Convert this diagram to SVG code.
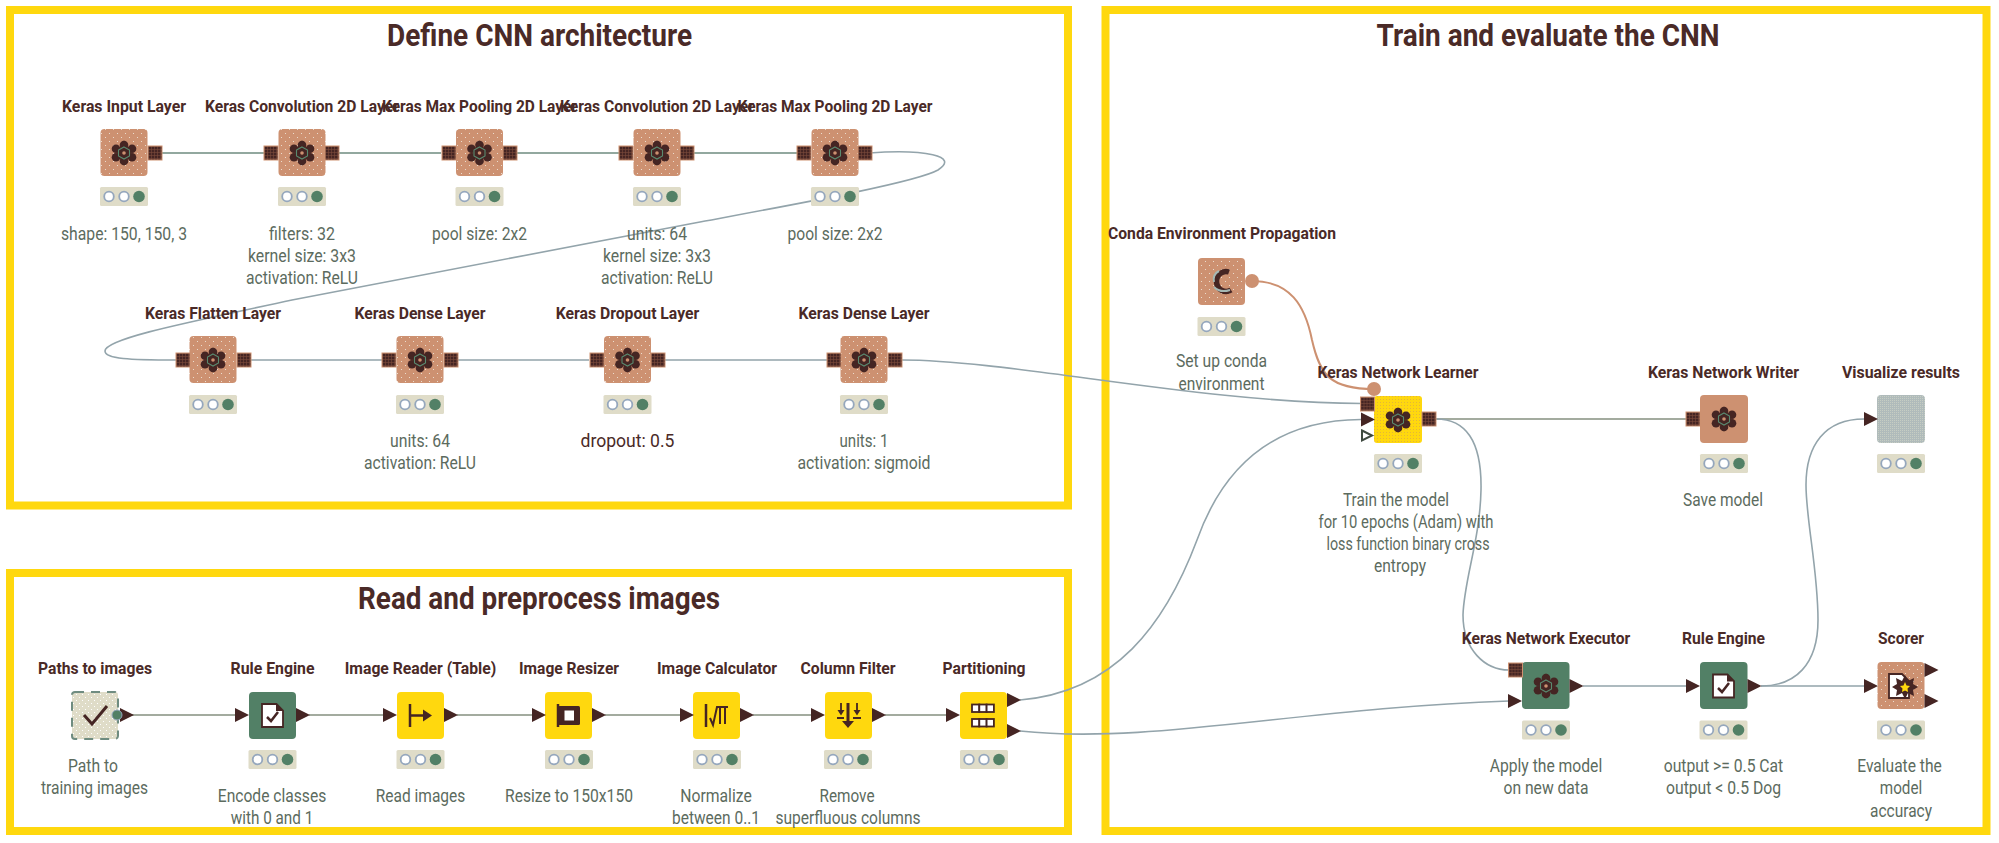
<svg xmlns="http://www.w3.org/2000/svg" xmlns:xlink="http://www.w3.org/1999/xlink" width="1999" height="843" viewBox="0 0 1999 843">
<style>
text{font-family:Roboto,"Liberation Sans",sans-serif;text-anchor:middle}
.h{font-size:31px;font-weight:700;fill:#4a2a27}
.t{font-size:17px;font-weight:700;fill:#4a2a27}
.n{font-size:17.500px;font-weight:400;fill:#5c6b5e}
.d{font-size:19px;font-weight:400;fill:#4a2a27}
.frame{fill:none;stroke:#ffd80e;stroke-width:8;stroke-linejoin:miter}
.c{fill:none;stroke:#93a4ab;stroke-width:1.6}
.cg{fill:none;stroke:#6f8c80;stroke-width:1.6}
.cb{fill:none;stroke:#a3ab9f;stroke-width:2}
.co{fill:none;stroke:#cd9171;stroke-width:2}
.ic{stroke:#452523;fill:none}
</style>
<defs>
<pattern id="pk" width="8" height="8" patternUnits="userSpaceOnUse"><rect width="8" height="8" fill="#cd9171"/><rect x="1" y="1" width="1" height="1" fill="#ecdccd"/><rect x="5" y="5" width="1" height="1" fill="#ecdccd"/></pattern>
<pattern id="pb" width="6" height="6" patternUnits="userSpaceOnUse"><rect width="6" height="6" fill="#dfdcc8"/><rect x="1" y="1" width="1" height="1" fill="#fff"/><rect x="4" y="4" width="1" height="1" fill="#fff"/></pattern>
<pattern id="pg" width="2" height="2" patternUnits="userSpaceOnUse"><rect width="2" height="2" fill="#b0bbbb"/><rect width="1" height="1" fill="#c6cdc3"/></pattern>
<pattern id="pp" width="3" height="3" patternUnits="userSpaceOnUse"><rect width="3" height="3" fill="#7a4a3a"/><rect width="2.400" height="2.400" fill="#452523"/></pattern>
<pattern id="py" width="3" height="3" patternUnits="userSpaceOnUse"><rect width="3" height="3" fill="#ffd80e"/><rect width="1" height="1" fill="#e3b63a"/></pattern>
<rect id="port" x="-7" y="-7" width="14" height="14" fill="url(#pp)" stroke="#cd9171" stroke-width="1"/>
<path id="tri" d="M0 -7 L14 0 L0 7 Z" fill="#452523"/>
<g id="status"><rect x="-24" y="-9.500" width="48" height="19" rx="1.500" fill="#dfdcc8"/><circle cx="-15" r="4.800" fill="#fff" stroke="#95a7bd" stroke-width="1.800"/><circle r="4.800" fill="#fff" stroke="#95a7bd" stroke-width="1.800"/><circle cx="15" r="5.800" fill="#528066"/></g>
<g id="keras"><g fill="#452523"><path d="M-4 -8L0 -12.500L4 -8ZM-4 8L0 12.500L4 8Z"/><circle cy="-8" r="4.300"/><circle cy="8" r="4.300"/><circle cx="-8" cy="-4.300" r="4.300"/><circle cx="8" cy="-4.300" r="4.300"/><circle cx="-8" cy="4.300" r="4.300"/><circle cx="8" cy="4.300" r="4.300"/><circle r="7"/></g><path d="M0 -6 L5.500 -3 V3 L0 6 L-5.500 3 V-3 Z" fill="none" stroke="#5a8a70" stroke-width="1.100"/><circle r="1.800" fill="#cd9171"/></g>
<g id="doc"><path d="M-10.500 -11.500 H4 L10.500 -5 V11.500 H-10.500 Z" fill="#fff" stroke="#452523" stroke-width="1.800"/><path d="M3.500 -11.500 L10.500 -4.500 H3.500 Z" fill="#452523"/></g>
</defs>
<rect width="1999" height="843" fill="#fff"/>
<g id="frames">
<rect class="frame" x="10" y="10" width="1058" height="495.500"/>
<rect class="frame" x="10" y="573" width="1058" height="258"/>
<rect class="frame" x="1105.500" y="10" width="881" height="821"/>
<text class="h" x="539.500" y="46" textLength="305" lengthAdjust="spacingAndGlyphs">Define CNN architecture</text>
<text class="h" x="1548" y="46" textLength="343" lengthAdjust="spacingAndGlyphs">Train and evaluate the CNN</text>
<text class="h" x="539" y="609" textLength="362" lengthAdjust="spacingAndGlyphs">Read and preprocess images</text>
</g>
<g id="connectors">
<path class="cg" d="M162 153H264M339 153H441M516 153H619M694 153H797"/>
<path class="c" d="M869 153C925 149 960 156 938 170C915 183 780 207 700 222C560 248 420 276 292 300C200 320 105 338 105 351C105 359 130 360 176 360"/>
<path class="c" d="M251 360H382M458 360H589M665 360H827M902 360C1010 360 1200 403 1362 403.500"/>
<path class="cb" d="M132 715H236M309 715H383M457 715H532M605 715H680M753 715H811M885 715H946"/>
<path class="c" d="M1020 700C1115 692 1165 625 1197 540C1222 470 1270 420 1361 419.500"/>
<path class="c" d="M1020 731C1150 745 1300 708 1509 701"/>
<path class="cb" d="M1436 419H1686"/>
<path class="c" d="M1436 419C1465 419 1482 440 1481 490C1480 540 1464 580 1463 615C1463 650 1485 670 1509 670"/>
<path class="c" stroke-width="2" d="M1583 686H1687M1761 686H1864"/>
<path class="c" d="M1761 686C1795 686 1818 665 1818 620C1818 570 1806 520 1806 485C1806 445 1825 419 1864 419"/>
<path class="co" d="M1252 281C1290 281 1305 305 1312 340C1320 375 1330 389 1374 389"/>
</g>
<g id="n-input"><rect x="100.500" y="129" width="47" height="47" rx="4" fill="url(#pk)"/><use xlink:href="#keras" x="124" y="153"/><use xlink:href="#port" x="155" y="153"/><use xlink:href="#status" x="124" y="196.500"/>
<text class="t" x="124" y="111.500" textLength="124" lengthAdjust="spacingAndGlyphs">Keras Input Layer</text>
<text class="n" x="124" y="239.500" textLength="126" lengthAdjust="spacingAndGlyphs">shape: 150, 150, 3</text></g>
<g id="n-conv1"><rect x="278.500" y="129" width="47" height="47" rx="4" fill="url(#pk)"/><use xlink:href="#keras" x="302" y="153"/><use xlink:href="#port" x="271" y="153"/><use xlink:href="#port" x="332" y="153"/><use xlink:href="#status" x="302" y="196.500"/>
<text class="t" x="302" y="111.500" textLength="194" lengthAdjust="spacingAndGlyphs">Keras Convolution 2D Layer</text>
<text class="n" x="302" y="239.500" textLength="66" lengthAdjust="spacingAndGlyphs">filters: 32</text>
<text class="n" x="302" y="261.500" textLength="108" lengthAdjust="spacingAndGlyphs">kernel size: 3x3</text>
<text class="n" x="302" y="283.500" textLength="112" lengthAdjust="spacingAndGlyphs">activation: ReLU</text></g>
<g id="n-pool1"><rect x="456" y="129" width="47" height="47" rx="4" fill="url(#pk)"/><use xlink:href="#keras" x="479.500" y="153"/><use xlink:href="#port" x="449" y="153"/><use xlink:href="#port" x="510" y="153"/><use xlink:href="#status" x="479.500" y="196.500"/>
<text class="t" x="479.500" y="111.500" textLength="195" lengthAdjust="spacingAndGlyphs">Keras Max Pooling 2D Layer</text>
<text class="n" x="479.500" y="239.500" textLength="95" lengthAdjust="spacingAndGlyphs">pool size: 2x2</text></g>
<g id="n-conv2"><rect x="633.500" y="129" width="47" height="47" rx="4" fill="url(#pk)"/><use xlink:href="#keras" x="657" y="153"/><use xlink:href="#port" x="626" y="153"/><use xlink:href="#port" x="687" y="153"/><use xlink:href="#status" x="657" y="196.500"/>
<text class="t" x="657" y="111.500" textLength="194" lengthAdjust="spacingAndGlyphs">Keras Convolution 2D Layer</text>
<text class="n" x="657" y="239.500" textLength="60" lengthAdjust="spacingAndGlyphs">units: 64</text>
<text class="n" x="657" y="261.500" textLength="108" lengthAdjust="spacingAndGlyphs">kernel size: 3x3</text>
<text class="n" x="657" y="283.500" textLength="112" lengthAdjust="spacingAndGlyphs">activation: ReLU</text></g>
<g id="n-pool2"><rect x="811.500" y="129" width="47" height="47" rx="4" fill="url(#pk)"/><use xlink:href="#keras" x="835" y="153"/><use xlink:href="#port" x="804" y="153"/><use xlink:href="#port" x="865" y="153"/><use xlink:href="#status" x="835" y="196.500"/>
<text class="t" x="835" y="111.500" textLength="195" lengthAdjust="spacingAndGlyphs">Keras Max Pooling 2D Layer</text>
<text class="n" x="835" y="239.500" textLength="95" lengthAdjust="spacingAndGlyphs">pool size: 2x2</text></g>
<g id="n-flatten"><rect x="189.500" y="336" width="47" height="47" rx="4" fill="url(#pk)"/><use xlink:href="#keras" x="213" y="360"/><use xlink:href="#port" x="183" y="360"/><use xlink:href="#port" x="244" y="360"/><use xlink:href="#status" x="213" y="404.500"/>
<text class="t" x="213" y="319" textLength="136" lengthAdjust="spacingAndGlyphs">Keras Flatten Layer</text></g>
<g id="n-dense1"><rect x="396.500" y="336" width="47" height="47" rx="4" fill="url(#pk)"/><use xlink:href="#keras" x="420" y="360"/><use xlink:href="#port" x="389" y="360"/><use xlink:href="#port" x="451" y="360"/><use xlink:href="#status" x="420" y="404.500"/>
<text class="t" x="420" y="319" textLength="131" lengthAdjust="spacingAndGlyphs">Keras Dense Layer</text>
<text class="n" x="420" y="447" textLength="60" lengthAdjust="spacingAndGlyphs">units: 64</text>
<text class="n" x="420" y="469" textLength="112" lengthAdjust="spacingAndGlyphs">activation: ReLU</text></g>
<g id="n-dropout"><rect x="604" y="336" width="47" height="47" rx="4" fill="url(#pk)"/><use xlink:href="#keras" x="627.500" y="360"/><use xlink:href="#port" x="597" y="360"/><use xlink:href="#port" x="658" y="360"/><use xlink:href="#status" x="627.500" y="404.500"/>
<text class="t" x="627.500" y="319" textLength="143.500" lengthAdjust="spacingAndGlyphs">Keras Dropout Layer</text>
<text class="d" x="627.500" y="446.500" textLength="94" lengthAdjust="spacingAndGlyphs">dropout: 0.5</text></g>
<g id="n-dense2"><rect x="840.500" y="336" width="47" height="47" rx="4" fill="url(#pk)"/><use xlink:href="#keras" x="864" y="360"/><use xlink:href="#port" x="834" y="360"/><use xlink:href="#port" x="895" y="360"/><use xlink:href="#status" x="864" y="404.500"/>
<text class="t" x="864" y="319" textLength="131" lengthAdjust="spacingAndGlyphs">Keras Dense Layer</text>
<text class="n" x="864" y="447" textLength="49" lengthAdjust="spacingAndGlyphs">units: 1</text>
<text class="n" x="864" y="469" textLength="133" lengthAdjust="spacingAndGlyphs">activation: sigmoid</text></g>
<g id="n-paths"><rect x="72" y="692" width="46" height="47" rx="3" fill="url(#pb)"/><rect x="72" y="692" width="46" height="47" rx="3" fill="none" stroke="#6f8c80" stroke-width="2" stroke-dasharray="9 7"/><path class="ic" stroke-width="3" d="M84 715L92 724L107 706"/><use xlink:href="#tri" x="120" y="715"/><circle cx="117" cy="715" r="5" fill="#528066" stroke="#95a7bd" stroke-width="1"/><text class="t" x="95" y="674" textLength="114" lengthAdjust="spacingAndGlyphs">Paths to images</text>
<text class="n" x="93" y="772" textLength="50" lengthAdjust="spacingAndGlyphs">Path to</text>
<text class="n" x="94.500" y="794" textLength="107" lengthAdjust="spacingAndGlyphs">training images</text></g>
<g id="n-rule1"><rect x="249" y="692" width="47" height="47" rx="4" fill="#528066"/><use xlink:href="#tri" x="235" y="715"/><use xlink:href="#tri" x="296" y="715"/><use xlink:href="#doc" x="272.500" y="715.500"/><path class="ic" stroke-width="2.500" d="M267 717L271 721L278 712"/><use xlink:href="#status" x="272.500" y="759.500"/>
<text class="t" x="272.500" y="674" textLength="84" lengthAdjust="spacingAndGlyphs">Rule Engine</text>
<text class="n" x="272" y="802" textLength="108.500" lengthAdjust="spacingAndGlyphs">Encode classes</text>
<text class="n" x="272" y="823.500" textLength="82.500" lengthAdjust="spacingAndGlyphs">with 0 and 1</text></g>
<g id="n-reader"><rect x="397" y="692" width="47" height="47" rx="4" fill="#ffd80e"/><use xlink:href="#tri" x="383" y="715"/><use xlink:href="#tri" x="444" y="715"/><path class="ic" stroke-width="2.500" d="M410 704V727M410 715.500H425"/><path d="M423 709.500L432 715.500L423 721.500Z" fill="#452523"/><use xlink:href="#status" x="420.500" y="759.500"/>
<text class="t" x="420.500" y="674" textLength="151.500" lengthAdjust="spacingAndGlyphs">Image Reader (Table)</text>
<text class="n" x="420.500" y="802" textLength="89.500" lengthAdjust="spacingAndGlyphs">Read images</text></g>
<g id="n-resizer"><rect x="545" y="692" width="47" height="47" rx="4" fill="#ffd80e"/><use xlink:href="#tri" x="532" y="715"/><use xlink:href="#tri" x="592" y="715"/><path class="ic" stroke-width="2.500" d="M558 704V727"/><rect x="558" y="706" width="22" height="19" rx="1.500" fill="#452523"/><rect x="564.500" y="710.500" width="9.500" height="10" fill="#fff"/><use xlink:href="#status" x="569" y="759.500"/>
<text class="t" x="569" y="674" textLength="100" lengthAdjust="spacingAndGlyphs">Image Resizer</text>
<text class="n" x="569" y="802" textLength="128" lengthAdjust="spacingAndGlyphs">Resize to 150x150</text></g>
<g id="n-calc"><rect x="693" y="692" width="47" height="47" rx="4" fill="#ffd80e"/><use xlink:href="#tri" x="680" y="715"/><use xlink:href="#tri" x="740" y="715"/><path class="ic" stroke-width="2.500" d="M706 704V727"/><path class="ic" stroke-width="2" d="M710 718L713 725L717 707H728M720 707V724M725 707V724"/><use xlink:href="#status" x="717" y="759.500"/>
<text class="t" x="717" y="674" textLength="120" lengthAdjust="spacingAndGlyphs">Image Calculator</text>
<text class="n" x="716" y="802" textLength="71.500" lengthAdjust="spacingAndGlyphs">Normalize</text>
<text class="n" x="716" y="823.500" textLength="88" lengthAdjust="spacingAndGlyphs">between 0..1</text></g>
<g id="n-filter"><rect x="825" y="692" width="47" height="47" rx="4" fill="#ffd80e"/><use xlink:href="#tri" x="811" y="715"/><use xlink:href="#tri" x="872" y="715"/><path class="ic" stroke-width="3" d="M848 703V722"/><path d="M842 721H854L848 728Z" fill="#452523"/><path class="ic" stroke-width="1.800" d="M841 703V711M857 703V711M837 718H844M853 718H861"/><path d="M837.500 710H844.500L841 715.500ZM853.500 710H860.500L857 715.500Z" fill="#452523"/><use xlink:href="#status" x="848" y="759.500"/>
<text class="t" x="848" y="674" textLength="95" lengthAdjust="spacingAndGlyphs">Column Filter</text>
<text class="n" x="847" y="802" textLength="55" lengthAdjust="spacingAndGlyphs">Remove</text>
<text class="n" x="848" y="823.500" textLength="145" lengthAdjust="spacingAndGlyphs">superfluous columns</text></g>
<g id="n-part"><rect x="960" y="692" width="47" height="47" rx="4" fill="#ffd80e"/><use xlink:href="#tri" x="946" y="715"/><use xlink:href="#tri" x="1007" y="700"/><use xlink:href="#tri" x="1007" y="731"/><g fill="#fff" stroke="#452523" stroke-width="1.800"><rect x="972" y="704.500" width="7.300" height="7.500"/><rect x="979.300" y="704.500" width="7.300" height="7.500"/><rect x="986.600" y="704.500" width="7.300" height="7.500"/><rect x="972" y="719" width="7.300" height="7.500"/><rect x="979.300" y="719" width="7.300" height="7.500"/><rect x="986.600" y="719" width="7.300" height="7.500"/></g><use xlink:href="#status" x="984" y="759.500"/>
<text class="t" x="984" y="674" textLength="83" lengthAdjust="spacingAndGlyphs">Partitioning</text></g>
<g id="n-conda"><rect x="1198" y="258" width="47" height="47" rx="4" fill="url(#pk)"/><path class="ic" stroke-width="5.500" d="M1229 272A9.500 10 0 1 0 1231 290"/><path fill="none" stroke="#a5b8b4" stroke-width="2" d="M1214 287C1218 291 1224 292 1230 290M1214 282C1213 277 1215 273 1219 271"/><circle cx="1252" cy="281" r="7" fill="#cd9171"/><use xlink:href="#status" x="1221.500" y="326.500"/>
<text class="t" x="1222" y="239" textLength="228" lengthAdjust="spacingAndGlyphs">Conda Environment Propagation</text>
<text class="n" x="1221.500" y="367" textLength="91" lengthAdjust="spacingAndGlyphs">Set up conda</text>
<text class="n" x="1221.500" y="390" textLength="86" lengthAdjust="spacingAndGlyphs">environment</text></g>
<g id="n-learner"><circle cx="1374" cy="389" r="7" fill="#cd9171"/><rect x="1374" y="396" width="48" height="47" rx="3" fill="url(#py)"/><use xlink:href="#keras" x="1398" y="420"/><use xlink:href="#port" x="1367.500" y="404"/><use xlink:href="#port" x="1429" y="419"/><use xlink:href="#tri" x="1361" y="419.500"/><path d="M1362 430.500L1372 435.500L1362 440.500Z" fill="#fff" stroke="#3f4a40" stroke-width="2"/><use xlink:href="#status" x="1398" y="463.500"/>
<text class="t" x="1398" y="378" textLength="161" lengthAdjust="spacingAndGlyphs">Keras Network Learner</text>
<text class="n" x="1396" y="505.500" textLength="106" lengthAdjust="spacingAndGlyphs">Train the model</text>
<text class="n" x="1406" y="527.500" textLength="175" lengthAdjust="spacingAndGlyphs">for 10 epochs (Adam) with</text>
<text class="n" x="1408" y="549.500" textLength="163" lengthAdjust="spacingAndGlyphs">loss function binary cross</text>
<text class="n" x="1400" y="571.500" textLength="52" lengthAdjust="spacingAndGlyphs">entropy</text></g>
<g id="n-writer"><rect x="1700" y="395" width="48" height="48" rx="4" fill="#cd9171"/><use xlink:href="#keras" x="1724" y="419"/><use xlink:href="#port" x="1693" y="419"/><use xlink:href="#status" x="1724" y="463.500"/>
<text class="t" x="1723.500" y="378" textLength="151" lengthAdjust="spacingAndGlyphs">Keras Network Writer</text>
<text class="n" x="1723" y="505.500" textLength="80" lengthAdjust="spacingAndGlyphs">Save model</text></g>
<g id="n-visual"><rect x="1877" y="395" width="48" height="48" rx="4" fill="url(#pg)"/><use xlink:href="#tri" x="1864" y="419"/><use xlink:href="#status" x="1901" y="463.500"/>
<text class="t" x="1901" y="378" textLength="118" lengthAdjust="spacingAndGlyphs">Visualize results</text></g>
<g id="n-exec"><rect x="1522" y="662" width="47.500" height="47" rx="4" fill="#528066"/><use xlink:href="#keras" x="1546" y="686"/><use xlink:href="#port" x="1515.500" y="670"/><use xlink:href="#tri" x="1508" y="701"/><use xlink:href="#tri" x="1569.500" y="686"/><use xlink:href="#status" x="1546" y="730"/>
<text class="t" x="1546" y="644" textLength="168.500" lengthAdjust="spacingAndGlyphs">Keras Network Executor</text>
<text class="n" x="1546" y="772" textLength="112.500" lengthAdjust="spacingAndGlyphs">Apply the model</text>
<text class="n" x="1546" y="794" textLength="85" lengthAdjust="spacingAndGlyphs">on new data</text></g>
<g id="n-rule2"><rect x="1700" y="662" width="47.500" height="47" rx="4" fill="#528066"/><use xlink:href="#tri" x="1686" y="686"/><use xlink:href="#tri" x="1747.500" y="686"/><use xlink:href="#doc" x="1723.500" y="686"/><path class="ic" stroke-width="2.500" d="M1718 688L1722 692L1729 683"/><use xlink:href="#status" x="1723.500" y="730"/>
<text class="t" x="1723.500" y="644" textLength="83" lengthAdjust="spacingAndGlyphs">Rule Engine</text>
<text class="n" x="1723.500" y="772" textLength="119.500" lengthAdjust="spacingAndGlyphs">output &gt;= 0.5 Cat</text>
<text class="n" x="1723.500" y="794" textLength="115" lengthAdjust="spacingAndGlyphs">output &lt; 0.5 Dog</text></g>
<g id="n-scorer"><rect x="1877.500" y="662" width="47" height="47" rx="4" fill="url(#pk)"/><use xlink:href="#tri" x="1864" y="686"/><use xlink:href="#tri" x="1924.500" y="670"/><use xlink:href="#tri" x="1924.500" y="701"/><path d="M1889 674H1902L1909 681V698H1889Z" fill="#fff" stroke="#452523" stroke-width="1.800"/><path d="M1905 675L1908 681L1914 678L1913 684L1918 687L1913 690L1914 696L1908 693L1905 699L1902 693L1896 696L1897 690L1892 687L1897 684L1896 678L1902 681Z" fill="#452523"/><path d="M1905 682L1906.500 685.500L1910 686L1907.500 688.500L1908 692L1905 690.500L1902 692L1902.500 688.500L1900 686L1903.500 685.500Z" fill="#ffd80e"/><use xlink:href="#status" x="1901" y="730"/>
<text class="t" x="1901" y="644" textLength="46" lengthAdjust="spacingAndGlyphs">Scorer</text>
<text class="n" x="1899.500" y="772" textLength="84.500" lengthAdjust="spacingAndGlyphs">Evaluate the</text>
<text class="n" x="1901" y="794" textLength="42.500" lengthAdjust="spacingAndGlyphs">model</text>
<text class="n" x="1901" y="816.500" textLength="62" lengthAdjust="spacingAndGlyphs">accuracy</text></g>
</svg>
